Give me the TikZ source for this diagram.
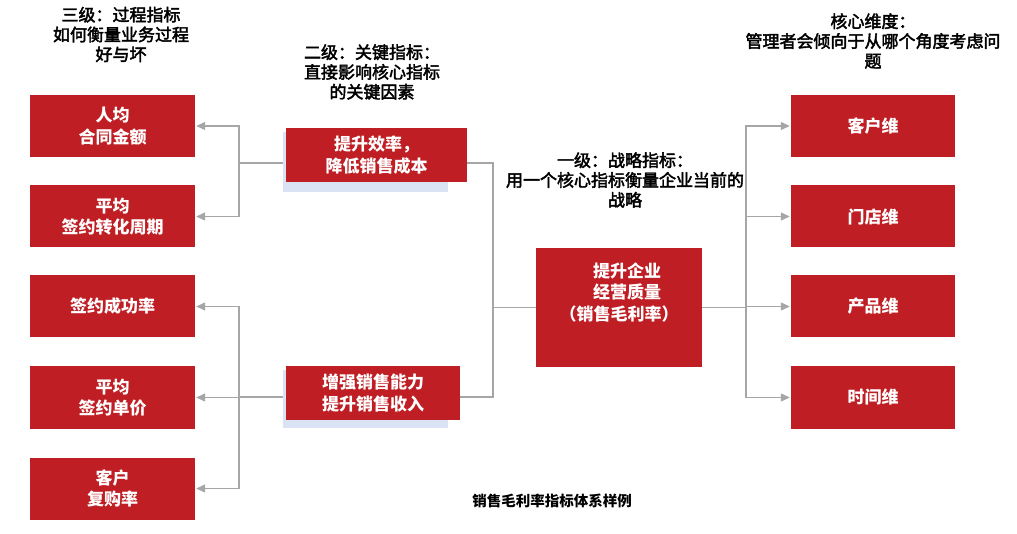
\documentclass[tikz,border=0pt]{standalone}
\usepackage{fontspec}
\setmainfont{Noto Sans CJK SC}
\newfontfamily\hdfont[BoldFont={Noto Sans CJK SC}, BoldFeatures={FakeBold=2.5}]{Noto Sans CJK SC}
\usetikzlibrary{arrows.meta,backgrounds}
\definecolor{boxred}{RGB}{190,30,36}
\definecolor{shade}{RGB}{218,227,243}
\definecolor{linegray}{RGB}{166,166,166}
\tikzset{
  redbox/.style={fill=boxred, draw=none, text=white, font=\fontsize{17}{21.5}\selectfont\bfseries, align=center, inner sep=0pt},
  smallbox/.style={redbox, minimum width=165pt, minimum height=62pt},
  midbox/.style={redbox, minimum height=54pt},
  shadowbox/.style={fill=shade, draw=none},
  header/.style={font=\fontsize{17}{19.8}\selectfont\hdfont\bfseries, align=center, text=black, inner sep=0pt},
  caption/.style={font=\fontsize{14.5}{17}\selectfont\bfseries, text=black, inner sep=0pt},
  conn/.style={draw=linegray, line width=1.3pt},
  arr/.style={conn, -{Triangle[length=9pt,width=8pt]}, shorten >=1pt},
}
\begin{document}
\begin{tikzpicture}[x=1pt,y=-1pt]
\useasboundingbox (0,0) rectangle (1017,534);

% headers
\node[header] (h3) at (121,34.5) {三级：过程指标\\如何衡量业务过程\\好与坏};
\node[header] (h2) at (372,72) {二级：关键指标：\\直接影响核心指标\\的关键因素};
\node[header] (h1) at (625,180) {一级：战略指标：\\用一个核心指标衡量企业当前的\\战略};
\node[header] (hd) at (873,41) {核心维度：\\管理者会倾向于从哪个角度考虑问\\题};

% junction coordinates
\coordinate (jl1) at (239,163);
\coordinate (jl2) at (239,397);
\coordinate (jm) at (493,307.5);
\coordinate (jr) at (746,307.5);

% left boxes
\node[smallbox] (l1) at (112.5,126) {人均\\合同金额};
\node[smallbox] (l2) at (112.5,216.5) {平均\\签约转化周期};
\node[smallbox] (l3) at (112.5,306.5) {签约成功率};
\node[smallbox] (l4) at (112.5,397.5) {平均\\签约单价};
\node[smallbox] (l5) at (112.5,488.5) {客户\\复购率};

% middle boxes
\node[midbox, minimum width=181pt] (m1) at (376.5,155) {提升效率，\\降低销售成本};
\node[midbox, minimum width=174pt] (m2) at (373,393) {增强销售能力\\提升销售收入};

% center box
\node[redbox, minimum width=166pt, minimum height=119pt] (c) at (619,307.5) {};
\node[redbox, fill=none] (ct) at ([yshift=15pt]c.center) {\hspace*{16pt}提升企业\\\hspace*{16pt}经营质量\\（销售毛利率）};

% right boxes
\node[smallbox, minimum width=164pt] (r1) at (873,126) {客户维};
\node[smallbox, minimum width=164pt] (r2) at (873,216.5) {门店维};
\node[smallbox, minimum width=164pt] (r3) at (873,306.5) {产品维};
\node[smallbox, minimum width=164pt] (r4) at (873,397.5) {时间维};

\begin{scope}[on background layer]
% connectors
\draw[conn] ([yshift=-8pt]m1.west) -- (jl1);
\draw[arr] (jl1) |- (l1.east);
\draw[arr] (jl1) |- (l2.east);
\draw[conn] ([yshift=-4pt]m2.west) -- (jl2);
\draw[arr] (jl2) |- (l3.east);
\draw[arr] (jl2) |- (l4.east);
\draw[arr] (jl2) |- (l5.east);
\draw[conn] ([yshift=-8pt]m1.east) -| (jm);
\draw[conn] ([yshift=-4pt]m2.east) -| (jm);
\draw[conn] (jm) -- (c.west);
\draw[conn] (c.east) -- (jr);
\draw[arr] (jr) |- (r1.west);
\draw[arr] (jr) |- (r2.west);
\draw[arr] (jr) |- (r3.west);
\draw[arr] (jr) |- (r4.west);
% shadows
\fill[shadowbox] ([xshift=-3pt,yshift=-4pt]m1.north west) rectangle ([xshift=-19pt,yshift=-10pt]m1.south east);
\fill[shadowbox] ([xshift=-3pt,yshift=-4pt]m2.north west) rectangle ([xshift=-12pt,yshift=-8pt]m2.south east);
\end{scope}

% caption
\node[caption] (cap) at (552,501) {销售毛利率指标体系样例};
\end{tikzpicture}
\end{document}
